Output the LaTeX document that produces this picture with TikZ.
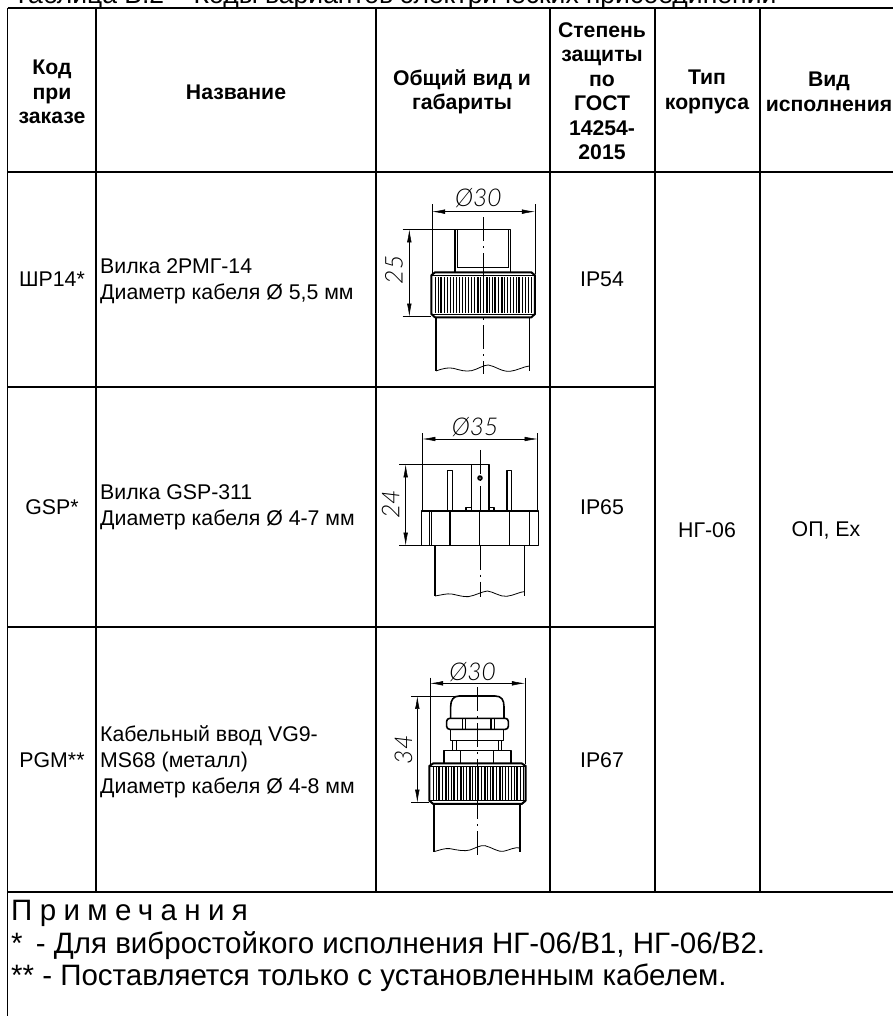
\documentclass[tikz,border=0pt]{standalone}
\usepackage{fontspec}
\setmainfont{Liberation Sans}
\newfontfamily\dimfont[ItalicFont={Lato Light Italic}]{Lato Light}
\usetikzlibrary{arrows.meta}
\tikzset{
 grid/.style={line width=1.7pt,black},
 hdr/.style={font=\fontsize{21.2}{24.5}\selectfont\bfseries,align=center,inner sep=0pt},
 cell/.style={font=\fontsize{21.3}{25.8}\selectfont,inner sep=0pt},
 lcell/.style={cell,align=left,anchor=west},
 note/.style={font=\fontsize{29.5}{32}\selectfont,anchor=base west,inner sep=0pt},
 dimtxt/.style={font=\fontsize{24.5}{26}\selectfont\dimfont\itshape,inner sep=0pt},
 zoomed/.style={x=0.3333pt,y=-0.3333pt},
 thickl/.style={line width=1.6pt,line join=round},
 midl/.style={line width=0.8pt},
 thinl/.style={line width=0.45pt},
 axisl/.style={line width=0.45pt,dash pattern=on 24pt off 5pt on 2pt off 5pt},
 dimarrow/.style={line width=0.5pt,{Latex[length=13pt,width=4.5pt]}-{Latex[length=13pt,width=4.5pt]}},
}
\begin{document}
\begin{tikzpicture}[x=1pt,y=-1pt]
\useasboundingbox[fill=white] (0,0) rectangle (893,1016);
\clip (0,0) rectangle (893,1016);
\node[font=\fontsize{26.5}{30}\selectfont,anchor=base west,inner sep=0pt] (title) at (13,4) {Таблица В.2 -- Коды вариантов электрических присоединений};
% grid
\draw[grid] (7.5,8) -- (893,8);
\draw[grid] (7.5,172) -- (893,172);
\draw[grid] (7.5,387) -- (655,387);
\draw[grid] (7.5,627) -- (655,627);
\draw[grid] (7.5,892) -- (893,892);
\draw[grid] (7.5,8) -- (7.5,1016);
\foreach \x in {96,376,550,655,760} \draw[grid] (\x,8) -- (\x,892);
% header
\node[hdr] (h1) at (52,92) {Код\\при\\заказе};
\node[hdr] (h2) at (236,92) {Название};
\node[hdr] (h3) at (462,92) {Общий вид и\\габариты};
\node[hdr] (h4) at (602,91) {Степень\\защиты\\по\\ГОСТ\\14254-\\2015};
\node[hdr] (h5) at (707,92) {Тип\\корпуса};
\node[hdr] (h6) at (829,92) {Вид\\исполнения};
% rows
\node[cell] (c1) at (52,279) {ШР14*};
\node[lcell] (n1) at (100,281) {Вилка 2РМГ-14\\Диаметр кабеля Ø 5,5 мм};
\node[cell] (p1) at (602,279) {IP54};
\node[cell] (c2) at (52,507) {GSP*};
\node[lcell] (n2) at (100,507) {Вилка GSP-311\\Диаметр кабеля Ø 4-7 мм};
\node[cell] (p2) at (602,507) {IP65};
\node[cell] (c3) at (52,760) {PGM**};
\node[lcell] (n3) at (100,762) {Кабельный ввод VG9-\\MS68 (металл)\\Диаметр кабеля Ø 4-8 мм};
\node[cell] (p3) at (602,760) {IP67};
\node[cell] (t) at (707,530) {НГ-06};
\node[cell] (v) at (826,530) {ОП, Ex};
% notes
\node[note] (nt1) at (11,920) {\addfontfeature{LetterSpace=25}Примечания};
\node[note] (nt2) at (11,953) {*\hspace{0.45em}- Для вибростойкого исполнения НГ-06/В1, НГ-06/В2.};
\node[note] (nt3) at (11,985) {** - Поставляется только с установленным кабелем.};
% drawing 1
\begin{scope}[shift={(370pt,-170pt)},zoomed]
\draw[thinl] (186,103)--(186,312) (495,103)--(495,312) (98,178)--(255,178) (98,440)--(182,440);
\draw[dimarrow] (186,125)--(495,125);
\draw[dimarrow] (118,178)--(118,440);
\node[dimtxt] (d1a) at (325,85) {Ø30};
\node[dimtxt,rotate=90] (d1b) at (72,300) {25};
\draw[thickl] (255,307)--(255,178)--(422,178)--(422,307);
\draw[midl] (262,178)--(262,293)--(416,293)--(416,178);
\foreach \x in {195,204,...,490}{\draw[thinl] (\x,322)--(\x,428);}
\foreach \x in {210,232,258,278,305,325,352,372,398,420,445,465}{\draw[midl] (\x,322)--(\x,428);}
\draw[thickl,line width=2pt] (195,307)--(484,307)--(495,316)--(495,432)--(484,442)--(195,442)--(184,432)--(184,316)--cycle;
\draw[midl] (184,316)--(495,316) (184,432)--(495,432);
\draw[thickl] (198,442)--(198,603) (478,442)--(478,603);
\draw[midl] (198,603)..controls (220,595) and (235,592)..(250,595)..controls (270,600) and (285,606)..(305,602)..controls (325,597) and (340,585)..(355,585)..controls (375,588) and (395,606)..(420,604)..controls (440,602) and (460,590)..(478,588);
\draw[axisl] (340,142)--(340,612);
\end{scope}
% drawing 2
\begin{scope}[shift={(370pt,-395pt)},zoomed]
\draw[thinl] (157,115)--(157,348) (503,115)--(503,348) (88,208)--(305,208) (88,452)--(155,452);
\draw[dimarrow] (157,132)--(503,132);
\draw[dimarrow] (107,208)--(107,452);
\node[dimtxt] (d2a) at (315,95) {Ø35};
\node[dimtxt,rotate=90] (d2b) at (62,328) {24};
\draw[thickl] (155,348) rectangle (505,452);
\draw[thickl] (178,348)--(178,452) (240,348)--(240,452) (328,348)--(328,452) (418,348)--(418,452) (478,348)--(478,452);
\draw[midl] (184,348)--(184,452);
\draw[thickl] (305,348)--(305,208)--(357,208)--(357,348);
\draw[thickl] (288,348)--(288,338)--(305,338) (357,338)--(372,338)--(372,348);
\draw[thickl] (233,348)--(233,227)--(247,227)--(247,348);
\draw[thickl] (411,348)--(411,227)--(425,227)--(425,348);
\draw[thickl] (330,249) circle[radius=6];
\fill (330,249) circle[radius=3];
\draw[thickl] (195,452)--(195,603) (463,452)--(463,603);
\draw[midl] (195,603)..controls (215,600) and (230,595)..(245,597)..controls (265,601) and (280,606)..(295,605)..controls (315,602) and (335,590)..(352,588)..controls (370,590) and (390,606)..(410,604)..controls (430,602) and (450,590)..(463,590);
\draw[axisl] (330,165)--(330,348) (330,452)--(330,605);
\end{scope}
% drawing 3
\begin{scope}[shift={(370pt,-610pt)},zoomed]
\draw[thinl] (180,203)--(180,462) (465,203)--(465,462) (123,258)--(268,258) (123,578)--(177,578);
\draw[dimarrow] (180,220)--(465,220);
\draw[dimarrow] (142,258)--(142,578);
\node[dimtxt] (d3a) at (308,185) {Ø30};
\node[dimtxt,rotate=90] (d3b) at (100,420) {34};
\draw[thickl] (242,325)--(242,290)..controls (242,270) and (250,258)..(268,258)--(375,258)..controls (395,258) and (402,270)..(402,290)--(402,325);
\draw[thickl,rounded corners=3pt] (230,325) rectangle (415,358);
\draw[thickl] (277,325)--(277,358) (287,325)--(287,358) (363,325)--(363,358) (373,325)--(373,358);
\draw[thickl] (242,358)--(242,392)--(400,392)--(400,358);
\draw[thickl] (248,392)--(248,422) (395,392)--(395,422);
\draw[midl] (258,392)--(258,422) (385,392)--(385,422);
\draw[thickl] (222,460)--(222,422)--(423,422)--(423,460);
\draw[thickl] (272,422)--(272,460) (370,422)--(370,460);
\foreach \x in {190,199,...,460}{\draw[thinl] (\x,470)--(\x,570);}
\foreach \x in {205,228,250,275,300,322,345,368,392,415,440}{\draw[midl] (\x,470)--(\x,570);}
\draw[thickl,line width=2pt] (190,460)--(455,460)--(467,468)--(467,572)--(455,582)--(190,582)--(178,572)--(178,468)--cycle;
\draw[midl] (178,468)--(467,468) (178,572)--(467,572);
\draw[thickl] (192,582)--(192,725) (450,582)--(450,725);
\draw[midl] (192,725)..controls (210,720) and (225,714)..(240,716)..controls (260,720) and (285,725)..(300,720)..controls (315,715) and (330,705)..(345,707)..controls (365,712) and (385,727)..(400,724)..controls (420,720) and (435,710)..(450,714);
\draw[axisl] (322,232)--(322,745);
\end{scope}
\end{tikzpicture}
\end{document}
